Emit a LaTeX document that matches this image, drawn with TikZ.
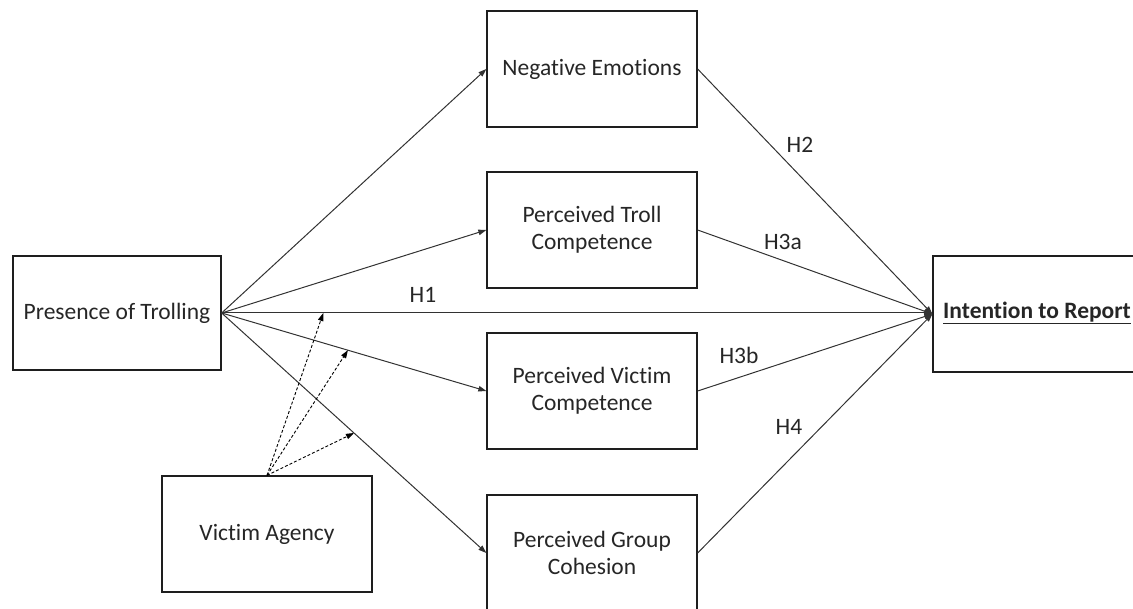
\documentclass[tikz,border=0pt]{standalone}
\usepackage{fontspec}
\setmainfont{Carlito}[Ligatures={NoCommon,NoRare,NoContextual}]
\usetikzlibrary{arrows.meta,calc}
\definecolor{linec}{RGB}{50,50,50}
\definecolor{boxc}{RGB}{30,30,30}
\begin{document}
\begin{tikzpicture}[x=1pt,y=-1pt,
  box/.style={draw=boxc,line width=1.3pt,rectangle,minimum width=210pt,minimum height=116pt,align=center,
    font=\fontsize{23.5}{26.7}\selectfont,inner sep=0pt,text=black!85},
  conn/.style={draw=linec,line width=1pt,-{Triangle[length=8pt,width=5.5pt]}},
  dconn/.style={draw=black,line width=0.9pt,densely dashed,-{Triangle[length=8pt,width=5.5pt]}},
  hlab/.style={font=\fontsize{23.5}{26}\selectfont,text=black!85,inner sep=0pt}]
\useasboundingbox (0,0) rectangle (1133,609);
\clip (0,0) rectangle (1133,609);
\node[box,minimum width=208pt,minimum height=114pt] (pres) at (117,313) {Presence of Trolling};
\node[box] (neg) at (592,69) {Negative Emotions};
\node[box] (troll) at (592,230) {Perceived Troll\\Competence};
\node[box] (vic) at (592,391) {Perceived Victim\\Competence};
\node[box] (grp) at (592,553) {Perceived Group\\Cohesion};
\node[box] (agency) at (267,534) {Victim Agency};
\node[box,minimum width=220pt] (int) at (1043,314) {};
\node[hlab,anchor=west,font=\fontsize{23.5}{26}\selectfont\bfseries] (inttext) at (943,313) {\underline{Intention to Report}};
% arrows from presence
\draw[conn] (pres.east) -- (neg.west);
\draw[conn] (pres.east) -- (troll.west);
\draw[conn] (pres.east) -- (vic.west);
\draw[conn] (pres.east) -- (grp.west);
\draw[conn] (pres.east) -- (pres.east -| int.west);
% arrows to intention
\draw[conn] (neg.east) -- (int.west);
\draw[conn] (troll.east) -- (int.west);
\draw[conn] (vic.east) -- (int.west);
\draw[conn] (grp.east) -- (int.west);
% moderator coordinates
\coordinate (d1) at ($(pres.east)!0.143!(pres.east -| int.west)$);
\coordinate (d2) at ($(pres.east)!0.477!(vic.west)$);
\coordinate (d3) at ($(pres.east)!0.5!(grp.west)$);
\draw[dconn] (agency.north) -- (d1);
\draw[dconn] (agency.north) -- (d2);
\draw[dconn] (agency.north) -- (d3);
% labels
\node[hlab] (h1) at (423,295) {H1};
\node[hlab] (h2) at (800,145) {H2};
\node[hlab] (h3a) at (783,242) {H3a};
\node[hlab] (h3b) at (739,355) {H3b};
\node[hlab] (h4) at (789,427) {H4};
\end{tikzpicture}
\end{document}
